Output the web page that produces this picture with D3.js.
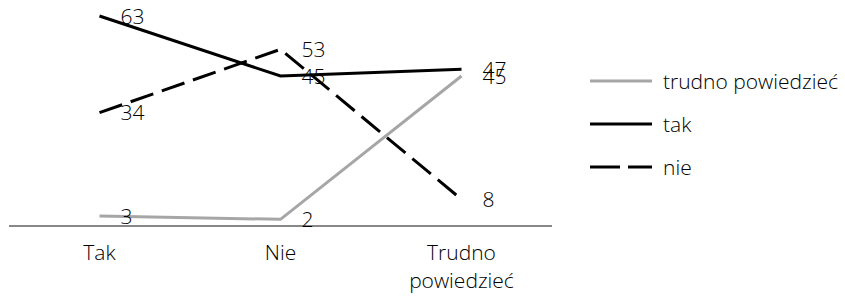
<!DOCTYPE html>
<html>
<head>
<meta charset="utf-8">
<script src="https://cdn.jsdelivr.net/npm/d3@7"></script>
<style>
  body { margin: 0; background: #fff; }
  text { font-family: "Open Sans", "Noto Sans", sans-serif; font-weight: 300; fill: #000; }
</style>
</head>
<body>
<svg width="845" height="296"></svg>
<script>
var categories = ["Tak", "Nie", "Trudno powiedzieć"];
var trudnoValues = [3, 2, 45];
var takValues = [63, 45, 47];
var nieValues = [34, 53, 8];
var seriesNames = ["trudno powiedzieć", "tak", "nie"];

var series = [
  {name: seriesNames[0], values: trudnoValues, color: "#a6a6a6", dash: null},
  {name: seriesNames[1], values: takValues, color: "#000", dash: null},
  {name: seriesNames[2], values: nieValues, color: "#000", dash: "24,9"}
];

var fontSize = "21px";

var svg = d3.select("svg");

var x = d3.scalePoint()
    .domain(categories)
    .range([9, 552])
    .padding(0.5);

var y = d3.scaleLinear()
    .domain([0, 70])
    .range([226, -7.3]);

// axis line
svg.append("line")
    .attr("x1", 9).attr("x2", 552)
    .attr("y1", y(0)).attr("y2", y(0))
    .attr("stroke", "#888")
    .attr("stroke-width", 2);

// category labels (wrap two-word label)
var catLines = [["Tak"], ["Nie"], ["Trudno", "powiedzieć"]];
categories.forEach(function(c, i) {
  var t = svg.append("text")
      .attr("x", x(c))
      .attr("y", 260)
      .attr("text-anchor", "middle")
      .style("font-size", fontSize);
  catLines[i].forEach(function(s, j) {
    t.append("tspan").attr("x", x(c)).attr("dy", j ? 28 : 0).text(s);
  });
});

var line = d3.line()
    .x(function(d, i) { return x(categories[i]); })
    .y(function(d) { return y(d); });

series.forEach(function(s) {
  svg.append("path")
      .datum(s.values)
      .attr("d", line)
      .attr("fill", "none")
      .attr("stroke", s.color)
      .attr("stroke-width", 3)
      .attr("stroke-dasharray", s.dash);
});

// data labels
series.forEach(function(s) {
  svg.selectAll(null)
      .data(s.values)
      .enter().append("text")
      .attr("x", function(d, i) { return x(categories[i]) + 21; })
      .attr("y", function(d) { return y(d) + 7.5; })
      .style("font-size", fontSize)
      .text(function(d) { return d; });
});

// legend
var legend = svg.append("g").attr("transform", "translate(590,81)");
series.forEach(function(s, i) {
  var g = legend.append("g").attr("transform", "translate(0," + (i * 43) + ")");
  g.append("line")
      .attr("x1", 0).attr("x2", 62)
      .attr("stroke", s.color)
      .attr("stroke-width", 3)
      .attr("stroke-dasharray", s.dash ? "30,8" : null);
  g.append("text")
      .attr("x", 73)
      .attr("y", 7.5)
      .style("font-size", fontSize)
      .text(s.name);
});
</script>
</body>
</html>
